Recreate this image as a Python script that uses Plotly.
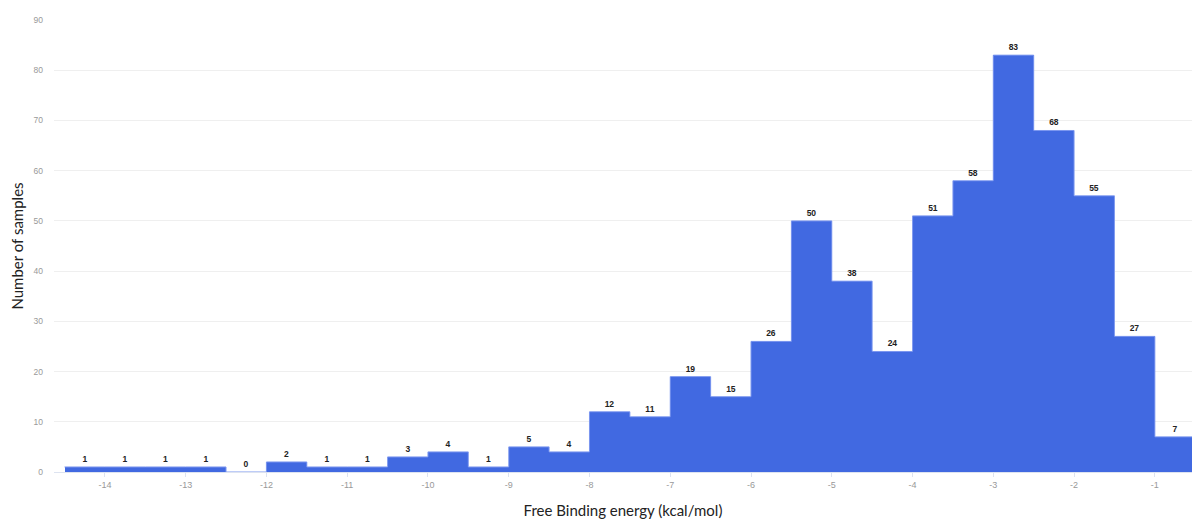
import plotly.graph_objects as go

bin_centers = [-14.25, -13.75, -13.25, -12.75, -12.25, -11.75, -11.25, -10.75,
               -10.25, -9.75, -9.25, -8.75, -8.25, -7.75, -7.25, -6.75, -6.25,
               -5.75, -5.25, -4.75, -4.25, -3.75, -3.25, -2.75, -2.25, -1.75,
               -1.25, -0.75]
counts = [1, 1, 1, 1, 0, 2, 1, 1, 3, 4, 1, 5, 4, 12, 11, 19, 15, 26, 50, 38,
          24, 51, 58, 83, 68, 55, 27, 7]
x_ticks = [-14, -13, -12, -11, -10, -9, -8, -7, -6, -5, -4, -3, -2, -1]
y_ticks = [0, 10, 20, 30, 40, 50, 60, 70, 80, 90]
bin_width = 0.5

fig = go.Figure(go.Bar(
    x=bin_centers, y=counts, width=bin_width,
    marker=dict(color="#4169E1", line=dict(width=0)),
    text=[str(c) for c in counts], textposition="outside",
    textfont=dict(family="Liberation Sans", size=8.5, color="#222"),
    texttemplate="<b>%{text}</b>", cliponaxis=False,
))

# light outline along the histogram's outer edge
edges = [c - bin_width / 2 for c in bin_centers] + [bin_centers[-1] + bin_width / 2]
fig.add_trace(go.Scatter(
    x=edges, y=counts + [counts[-1]], mode="lines",
    line=dict(color="#7d98ef", width=1, shape="hv"),
    hoverinfo="skip",
))

fig.update_layout(
    width=1192, height=520,
    margin=dict(l=54, r=0, t=20, b=48),
    paper_bgcolor="white", plot_bgcolor="white",
    showlegend=False, bargap=0,
    font=dict(family="Lato"),
    uniformtext=dict(minsize=8, mode="show"),
)
fig.update_xaxes(
    range=[-14.63, -0.54], tickvals=x_ticks, ticktext=[str(t) for t in x_ticks],
    tickfont=dict(family="Liberation Sans", size=9, color="#999"),
    ticks="outside", ticklen=4, tickcolor="#dde3f0",
    showgrid=False, zeroline=False, showline=True, linecolor="#dde3f0",
    title=dict(text="Free Binding energy (kcal/mol)",
               font=dict(family="Lato", size=15, color="#222"), standoff=16),
)
fig.update_yaxes(
    range=[0, 90], tickvals=y_ticks,
    tickfont=dict(family="Liberation Sans", size=8.5, color="#999"),
    ticklabelstandoff=10,
    showgrid=True, gridcolor="#efefef", gridwidth=1, zeroline=False,
    title=dict(text="Number of samples",
               font=dict(family="Lato", size=15, color="#222"), standoff=6),
)

fig.write_html("out.html", config={"displayModeBar": False},
               post_script="document.body.style.margin='0px';")
